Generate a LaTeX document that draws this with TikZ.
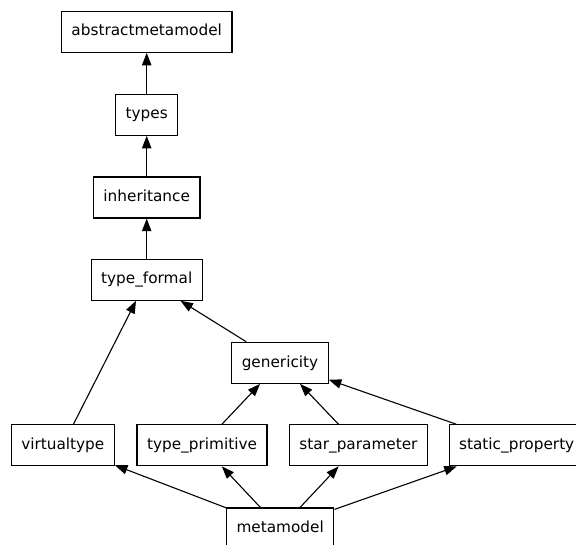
\documentclass[tikz,border=0pt]{standalone}
\usepackage{fontspec}
\setmainfont{DejaVu Sans}
\usetikzlibrary{arrows.meta}
\begin{document}
\begin{tikzpicture}[x=1pt,y=1pt,
  box/.style={draw,line width=1.2pt,inner xsep=10pt,inner ysep=0pt,minimum height=41pt,
    text height=11.5pt,text depth=2.9pt,font=\fontsize{15.3}{18}\selectfont},
  dep/.style={-{Triangle[length=12.5pt,width=9.3pt]},line width=1.1pt}]
\useasboundingbox (0,0) rectangle (576,544);
\node[box] (abstractmetamodel) at (146.7,512.3) {abstractmetamodel};
\node[box] (types) at (146.7,429.3) {types};
\node[box] (inheritance) at (146.7,346.5) {inheritance};
\node[box] (typeformal) at (146.7,264.3) {type\_formal};
\node[box] (genericity) at (280,181.2) {genericity};
\node[box] (virtualtype) at (62.8,98.7) {virtualtype};
\node[box] (typeprimitive) at (202,98.7) {type\_primitive};
\node[box] (starparameter) at (358.5,98.7) {star\_parameter};
\node[box] (staticproperty) at (516.7,98.7) {static\_property};
\node[box] (metamodel) at (280.2,15.5) {metamodel};
\draw[dep] (types) -- (abstractmetamodel);
\draw[dep] (inheritance) -- (types);
\draw[dep] (typeformal) -- (inheritance);
\draw[dep] (genericity) -- (typeformal);
\draw[dep] (virtualtype) -- (typeformal);
\foreach \n in {typeprimitive,starparameter,staticproperty}
  \draw[dep] (\n) -- (genericity);
\foreach \n in {virtualtype,typeprimitive,starparameter,staticproperty}
  \draw[dep] (metamodel) -- (\n);
\end{tikzpicture}
\end{document}
